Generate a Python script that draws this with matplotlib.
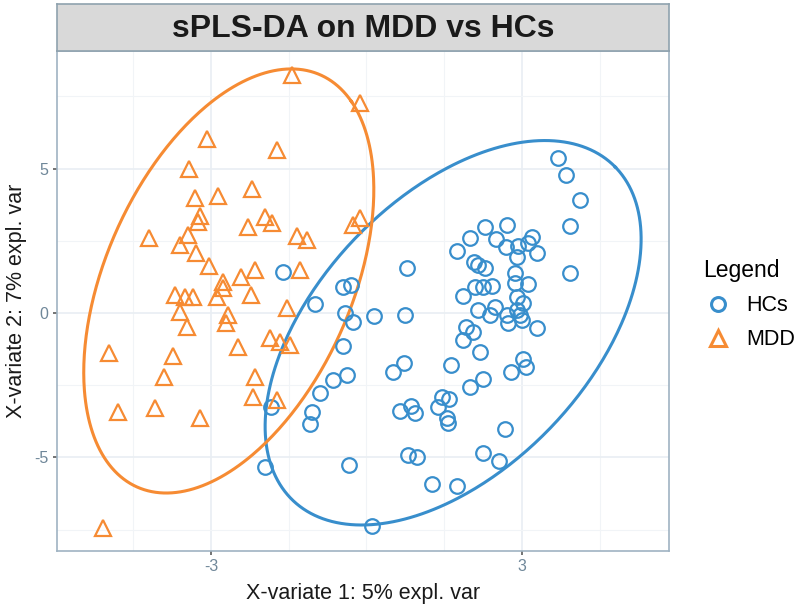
import numpy as np
import matplotlib
matplotlib.use("Agg")
import matplotlib.pyplot as plt
from matplotlib.lines import Line2D

# Datos -------------------------------------------------------------------------------------------
hcs_x = [3.70, 3.85, 4.13, 3.92, 3.93, 2.29, 2.71, 2.00, 2.51, 3.19, 3.12, 2.93, 2.69, 1.74, 3.30,
         2.90, 2.08, 2.16, 2.29, 2.87, 0.78, -1.61, 2.87, 3.12, 2.09, 2.25, 2.42, 1.87, 2.90, -0.45,
         -0.29, -0.99, 3.03, 2.16, 2.48, 2.38, 2.90, 2.71, 2.96, -0.42, -0.25, 0.14, 0.74, 3.29, 1.93,
         2.06, 2.74, 3.00, 1.87, 2.19, -0.45, 1.64, 0.51, 0.73, 3.03, 3.08, 2.80, -0.38, -0.64, -0.90,
         2.25, 2.00, 1.45, 1.60, 1.39, 0.65, 0.86, 0.94, 1.55, 1.57, -1.04, -1.09, -1.85, 2.67, 0.81,
         0.97, 2.25, 2.56, -0.33, -1.96, 1.26, 1.75, 0.10]
hcs_y = [5.35, 4.78, 3.91, 3.01, 1.37, 2.97, 3.04, 2.58, 2.55, 2.64, 2.41, 2.32, 2.27, 2.16, 2.07,
         1.93, 1.78, 1.66, 1.55, 1.37, 1.55, 1.43, 1.03, 1.00, 0.91, 0.91, 0.93, 0.59, 0.56, 0.91,
         0.97, 0.31, 0.34, 0.10, 0.22, -0.07, 0.10, -0.07, -0.07, -0.01, -0.30, -0.09, -0.07, -0.53, -0.47,
         -0.65, -0.34, -0.24, -0.93, -1.34, -1.14, -1.80, -2.06, -1.72, -1.60, -1.86, -2.03, -2.15, -2.32, -2.76,
         -2.29, -2.55, -2.90, -2.99, -3.26, -3.38, -3.22, -3.45, -3.64, -3.82, -3.42, -3.84, -3.26, -4.03, -4.91,
         -4.99, -4.85, -5.11, -5.27, -5.32, -5.93, -5.98, -7.39]

mdd_x = [-1.44, -0.13, -3.08, -1.73, -3.42, -2.20, -3.31, -2.86, -3.21, -3.25, -1.96, -1.83, -2.29,
         -1.34, -1.15, -0.13, -0.25, -4.19, -3.44, -3.59, -3.28, -3.03, -2.15, -1.28, -2.41, -2.76,
         -3.70, -3.50, -3.34, -2.76, -2.89, -2.22, -3.60, -1.54, -2.67, -2.70, -3.47, -2.47, -1.86,
         -1.67, -1.48, -4.97, -3.73, -3.90, -2.15, -2.19, -1.73, -4.79, -4.08, -3.21, -5.08]
mdd_y = [8.24, 7.26, 6.04, 5.64, 5.00, 4.28, 3.97, 4.05, 3.36, 3.16, 3.33, 3.12, 2.99,
         2.66, 2.53, 3.28, 3.04, 2.58, 2.70, 2.35, 2.09, 1.63, 1.49, 1.49, 1.24, 1.08,
         0.62, 0.56, 0.56, 0.85, 0.56, 0.62, 0.05, 0.16, -0.07, -0.36, -0.47, -1.17, -0.88,
         -0.99, -1.11, -1.40, -1.49, -2.20, -2.20, -2.90, -3.01, -3.42, -3.30, -3.64, -7.45]

grupos = ["HCs", "MDD"]
colores = ["#388ECC", "#F68B33"]
marcadores = ["o", "^"]

titulo = "sPLS-DA on MDD vs HCs"
etiqueta_x = "X-variate 1: 5% expl. var"
etiqueta_y = "X-variate 2: 7% expl. var"
nivel = 0.95


# Funciones ---------------------------------------------------------------------------------------
def elipse(x, y, level):
    # elipse de confianza (como ellipse::ellipse) a partir de media y covarianza
    x = np.asarray(x)
    y = np.asarray(y)
    cov = np.cov(x, y)
    t = np.sqrt(-2 * np.log(1 - level))
    ang = np.linspace(0, 2 * np.pi, 400)
    d = np.sqrt(np.diag(cov))
    r = cov[0, 1] / (d[0] * d[1])
    a = np.arccos(r)
    ex = x.mean() + t * d[0] * np.cos(ang + a / 2)
    ey = y.mean() + t * d[1] * np.cos(ang - a / 2)
    return ex, ey


# Grafico -----------------------------------------------------------------------------------------
plt.rcParams["font.family"] = ["Liberation Sans", "DejaVu Sans"]
plt.rcParams["axes.unicode_minus"] = False
fig = plt.figure(figsize=(8, 6.08), dpi=100)
ax = fig.add_axes([57 / 800, 1 - 551 / 608, 612 / 800, 500 / 608])
strip = fig.add_axes([57 / 800, 1 - 51 / 608, 612 / 800, 47 / 608])

datos = [(hcs_x, hcs_y), (mdd_x, mdd_y)]
for (xs, ys), col, mk in zip(datos, colores, marcadores):
    ax.plot(xs, ys, linestyle="none", marker=mk, markersize=10.5 if mk == "o" else 11.5,
            markerfacecolor="none", markeredgecolor=col, markeredgewidth=1.6, zorder=3)
    ex, ey = elipse(xs, ys, nivel)
    ax.plot(ex, ey, color=col, linewidth=2.2, zorder=2)

ax.set_xlim(-5.97, 5.84)
ax.set_ylim(-8.24, 9.07)
ax.set_xticks([-3, 3])
ax.set_xticks([-4.5, -1.5, 0, 1.5, 4.5], minor=True)
ax.set_yticks([-5, 0, 5])
ax.set_yticks([-7.5, -2.5, 2.5, 7.5], minor=True)
ax.grid(True, which="major", color="#E9EEF3", linewidth=1.2, zorder=0)
ax.grid(True, which="minor", color="#F1F4F7", linewidth=0.8, zorder=0)
ax.set_axisbelow(True)
for s in ax.spines.values():
    s.set_color("#9FB3C2")
    s.set_linewidth(1.2)
ax.tick_params(which="major", colors="#6F8799", labelsize=11.5, length=3, width=1.1, pad=3)
ax.tick_params(which="major", color="#4D4D4D")
ax.tick_params(which="minor", length=0)
ax.set_xlabel(etiqueta_x, fontsize=15.5, color="#1A1A1A", labelpad=6)
ax.set_ylabel(etiqueta_y, fontsize=15.5, color="#1A1A1A", labelpad=5)

strip.set_facecolor("#D9D9D9")
strip.set_xticks([])
strip.set_yticks([])
for s in strip.spines.values():
    s.set_color("#8FA2AE")
    s.set_linewidth(1.2)
strip.text(0.5, 0.47, titulo, ha="center", va="center", fontsize=23, fontweight="bold",
           color="#1A1A1A", transform=strip.transAxes)

handles = [Line2D([], [], linestyle="none", marker=mk, markersize=10 if mk == "o" else 11,
                  markerfacecolor="none", markeredgecolor=col, markeredgewidth=2.2)
           for col, mk in zip(colores, marcadores)]
leg = fig.legend(handles, grupos, title="Legend", loc="upper left",
                 bbox_to_anchor=(684 / 800, 1 - 240 / 608), frameon=False,
                 fontsize=15.5, title_fontsize=16.5, handletextpad=0.6, labelspacing=0.6,
                 handlelength=1.4)
leg._legend_box.align = "left"

fig.savefig("out.png", dpi=100)
